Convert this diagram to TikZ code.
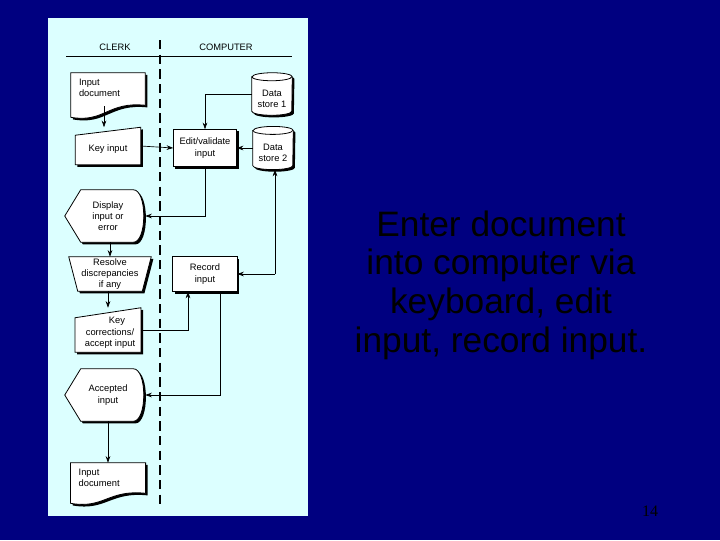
\documentclass[tikz,border=0pt]{standalone}
\usepackage{fontspec}
\setmainfont{Liberation Sans}
\usetikzlibrary{calc,arrows.meta}
\definecolor{navy}{RGB}{0,0,128}
\definecolor{panel}{RGB}{220,255,255}
\newcommand\shp[1]{\begin{scope}[transform canvas={shift={(1.6pt,-1.6pt)}}]\fill[black] #1;\end{scope} \filldraw[draw=black,fill=white,line width=0.6pt] #1;}
\begin{document}
\begin{tikzpicture}[x=0.75pt,y=-0.75pt,
  box/.style={draw=none,inner sep=1pt,font=\fontsize{7}{8}\selectfont,align=center},
  con/.style={line width=0.5pt,-{Stealth[length=5pt,width=3.5pt]}},
  ln/.style={line width=0.5pt}]
\fill[navy] (0,0) rectangle (720,540);
\useasboundingbox (0,0) rectangle (720,540);
\fill[panel] (48,18) rectangle (308,516);
\draw[line width=0.6pt] (66,56) -- (292,56);
\node[box] (clerk) at (115,47) {CLERK};
\node[box] (comp) at (226,47) {COMPUTER};
\draw[line width=1.6pt,dash pattern=on 7pt off 4pt] (160,40) -- (160,508);
% nodes
\node[box,minimum width=55.5pt,minimum height=33pt] (doc1) at (108,95) {};
\node[box,minimum width=48.75pt,minimum height=27.75pt] (ki) at (108,146) {};
\node[box,minimum width=47.25pt,minimum height=27.75pt] (ed) at (205,148) {};
\node[box,minimum width=30pt,minimum height=31.5pt] (ds1) at (272,94) {};
\node[box,minimum width=30pt,minimum height=32pt] (ds2) at (273,148) {};
\node[box,minimum width=60pt,minimum height=39pt] (disp) at (105,216) {};
\node[box,minimum width=61.5pt,minimum height=25.5pt] (res) at (110,274) {};
\node[box,minimum width=48pt,minimum height=26pt] (rec) at (205,274) {};
\node[box,minimum width=49pt,minimum height=33pt] (kc) at (108,330) {};
\node[box,minimum width=60pt,minimum height=39pt] (acc) at (105,395) {};
\node[box,minimum width=56pt,minimum height=30pt] (doc2) at (108,483) {};
% shapes
\shp{(doc1.north west) -- (doc1.north east) -- ($(doc1.south east)+(0,-12)$) .. controls ($(doc1.south)+(0,-16)$) and ($(doc1.south)+(-4,6)$) .. (doc1.south west) -- cycle}
\shp{(doc2.north west) -- (doc2.north east) -- ($(doc2.south east)+(0,-10)$) .. controls ($(doc2.south)+(0,-14)$) and ($(doc2.south)+(-4,6)$) .. (doc2.south west) -- cycle}
\shp{($(ki.north west)+(0,8)$) -- (ki.north east) -- (ki.south east) -- (ki.south west) -- cycle}
\shp{($(kc.north west)+(0,10)$) -- (kc.north east) -- (kc.south east) -- (kc.south west) -- cycle}
\shp{(ed.north west) rectangle (ed.south east)}
\shp{(rec.north west) rectangle (rec.south east)}
\shp{(res.north west) -- (res.north east) -- ($(res.south east)+(-9,0)$) -- ($(res.south west)+(9,0)$) -- cycle}
\shp{(disp.west) -- ($(disp.north west)+(16,0)$) -- ($(disp.north east)+(-12,0)$) .. controls ($(disp.north east)+(2,0)$) and ($(disp.south east)+(2,0)$) .. ($(disp.south east)+(-12,0)$) -- ($(disp.south west)+(16,0)$) -- cycle}
\shp{(acc.west) -- ($(acc.north west)+(16,0)$) -- ($(acc.north east)+(-12,0)$) .. controls ($(acc.north east)+(2,0)$) and ($(acc.south east)+(2,0)$) .. ($(acc.south east)+(-12,0)$) -- ($(acc.south west)+(16,0)$) -- cycle}
\shp{($(ds1.north west)+(0,4)$) -- ($(ds1.south west)+(0,-4)$) arc[start angle=180,end angle=0,x radius=20,y radius=4] -- ($(ds1.north east)+(0,4)$) arc[start angle=0,end angle=-180,x radius=20,y radius=4] -- cycle}
\draw[line width=0.6pt] ($(ds1.north west)+(0,4)$) arc[start angle=180,end angle=0,x radius=20,y radius=4];
\shp{($(ds2.north west)+(0,4)$) -- ($(ds2.south west)+(0,-4)$) arc[start angle=180,end angle=0,x radius=20,y radius=4] -- ($(ds2.north east)+(0,4)$) arc[start angle=0,end angle=-180,x radius=20,y radius=4] -- cycle}
\draw[line width=0.6pt] ($(ds2.north west)+(0,4)$) arc[start angle=180,end angle=0,x radius=20,y radius=4];
% texts
\tikzset{t/.style={font=\fontsize{7}{8.5}\selectfont,align=center,inner sep=0pt}}
\node[t,align=left,anchor=north west] at ($(doc1.north west)+(8,6)$) {Input\\document};
\node[t,align=left,anchor=north west] at ($(doc2.north west)+(8,6)$) {Input\\document};
\node[t] at ($(ki.center)+(0,3)$) {Key input};
\node[t] at (ed.center) {Edit/validate\\input};
\node[t] at ($(ds1.center)+(0,5)$) {Data\\store 1};
\node[t] at ($(ds2.center)+(0,5)$) {Data\\store 2};
\node[t] at ($(disp.center)+(3,0)$) {Display\\input or\\error};
\node[t] at (res.center) {Resolve\\discrepancies\\if any};
\node[t] at (rec.center) {Record\\input};
\node[t] at ($(kc.center)+(2,3)$) {\hspace*{1.5em}Key\\corrections/\\accept input};
\node[t] at ($(acc.center)+(3,0)$) {Accepted\\input};
% connectors
\draw[con] (104,106) -- (ki.north -| 104,0);
\draw[con] (ki.east) -- (ed.west);
\draw[con] (ds1.west) -| (ed.north);
\draw[con] (ds2.west) -- (ed.east);
\draw[con] (ed.south) |- (disp.east);
\draw[con] (disp.south -| res.north) -- (res.north);
\draw[con] (275,274) -- (rec.east);
\draw[con] (275,274) -- (ds2.south -| 275,0);
\draw[con] (res.south -| 108,0) -- (kc.north);
\draw[con] (kc.east) -| (rec.south -| 188,0);
\draw[con] (rec.south -| 220,0) |- (acc.east);
\draw[con] (acc.south -| 108,0) -- (doc2.north);
% right text
\node[font=\fontsize{26.5}{29}\selectfont,text=black,align=center] (main) at (501,285) {Enter document\\into computer via\\keyboard, edit\\input, record input.};
\node[font=\fontsize{12}{14}\selectfont,text=black] (pg) at (650,511) {\fontspec{Liberation Serif}14};
\end{tikzpicture}
\end{document}
